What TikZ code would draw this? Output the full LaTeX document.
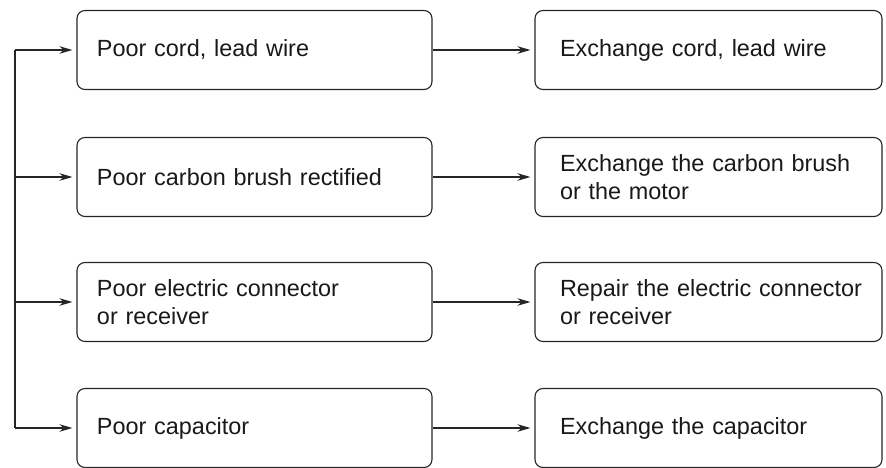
\documentclass[tikz,border=0pt]{standalone}
\usepackage{fontspec}
\setmainfont{Liberation Sans}
\usetikzlibrary{arrows.meta}
\newcommand\boxfont{\fontsize{23.5}{28}\selectfont}
\newcommand\nohyph{\hyphenpenalty 10000\relax}
\newcommand\indentl{\leftskip 8bp\relax}
\newcommand\indentr{\leftskip 13bp\relax}
\begin{document}
\begin{tikzpicture}[x=1bp,y=-1bp,
  box/.style={draw=black!85, line width=1.1bp, rounded corners=8bp, minimum height=79bp,
    align=left, font=\boxfont, text=black!90},
  lbox/.style={box, minimum width=355bp, text width=331bp, inner xsep=12bp,
    execute at begin node={\nohyph\indentl}},
  rbox/.style={box, minimum width=347bp, text width=323bp, inner xsep=12bp,
    execute at begin node={\nohyph\indentr}},
  arr/.style={draw=black!85, line width=1.1bp, -{Stealth[length=13bp,width=7.5bp,inset=4bp]}, shorten >=4bp},
  ln/.style={draw=black!85, line width=1.1bp}]
\useasboundingbox (0,0) rectangle (886,468);
\node[lbox] (l1) at (254.5,50) {Poor cord, lead wire};
\node[lbox] (l2) at (254.5,177) {Poor carbon brush rectified};
\node[lbox] (l3) at (254.5,302) {Poor electric connector\\or receiver};
\node[lbox] (l4) at (254.5,428) {Poor capacitor};
\node[rbox] (r1) at (708.5,50) {Exchange cord, lead wire};
\node[rbox] (r2) at (708.5,177) {Exchange the carbon brush\\or the motor};
\node[rbox] (r3) at (708.5,302) {Repair the electric connector\\or receiver};
\node[rbox] (r4) at (708.5,428) {Exchange the capacitor};
\coordinate (t) at (15,50);
\coordinate (b) at (15,428);
\draw[ln] (t) -- (b);
\draw[arr] (t) -- (l1.west);
\draw[arr] (l2.west -| t) -- (l2.west);
\draw[arr] (l3.west -| t) -- (l3.west);
\draw[arr] (b) -- (l4.west);
\draw[arr] (l1.east) -- (r1.west);
\draw[arr] (l2.east) -- (r2.west);
\draw[arr] (l3.east) -- (r3.west);
\draw[arr] (l4.east) -- (r4.west);
\end{tikzpicture}
\end{document}
